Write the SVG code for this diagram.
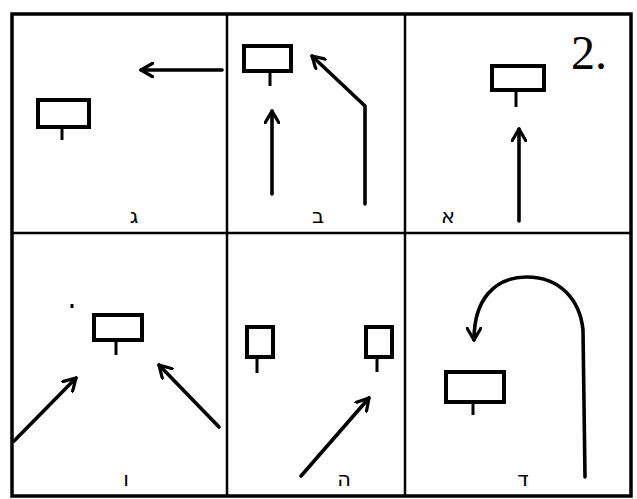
<svg xmlns="http://www.w3.org/2000/svg" width="637" height="499" viewBox="0 0 637 499">
<defs>
<marker id="ahl" viewBox="0 0 16 16" refX="13" refY="8" markerWidth="16" markerHeight="16" markerUnits="userSpaceOnUse" orient="auto">
<path d="M1,1 L13,8 L1,15" fill="none" stroke="#000" stroke-width="3.2" stroke-linecap="round" stroke-linejoin="round"/>
</marker>
</defs>
<style>
.frame{fill:none;stroke:#000;stroke-width:3.5}
.div{fill:none;stroke:#000;stroke-width:2.5}
.box{fill:#fff;stroke:#000;stroke-width:4}
.stem{stroke:#000;stroke-width:3}
.arr{fill:none;stroke:#000;stroke-width:3.6;stroke-linecap:round;stroke-linejoin:round;marker-end:url(#ahl)}
.lbl{font-family:"DejaVu Sans","Liberation Serif",sans-serif;font-size:21px;fill:#000;text-anchor:middle}
</style>
<rect width="637" height="499" fill="#fff"/>
<g id="grid">
<rect class="frame" x="12" y="14" width="619" height="482"/>
<line class="div" x1="227" y1="14" x2="227" y2="496"/>
<line class="div" x1="405" y1="14" x2="405" y2="496"/>
<line class="div" x1="12" y1="233" x2="631" y2="233"/>
</g>
<g id="connectors">
<line class="arr" x1="222" y1="70" x2="141" y2="70"/>
<line class="arr" x1="272" y1="194" x2="272" y2="111"/>
<polyline class="arr" points="365,204 365,106 312,56"/>
<line class="arr" x1="519" y1="221" x2="519" y2="129"/>
<line class="arr" x1="14" y1="441" x2="76" y2="378"/>
<line class="arr" x1="219" y1="427" x2="159" y2="365"/>
<line class="arr" x1="301" y1="476" x2="369" y2="398"/>
<path class="arr" d="M585,477 L583,330 C580,300 560,277 527,277 C494,277 474,300 474,340"/>
</g>
<g id="panel-gimel">
<rect class="box" x="38" y="100" width="51" height="27"/>
<line class="stem" x1="62" y1="127" x2="62" y2="140"/>
<text class="lbl" x="134" y="223">ג</text>
</g>
<g id="panel-bet">
<rect class="box" x="244" y="46" width="47" height="25"/>
<line class="stem" x1="270" y1="71" x2="270" y2="86"/>
<text class="lbl" x="318" y="223">ב</text>
</g>
<g id="panel-alef">
<rect class="box" x="492" y="66" width="52" height="24"/>
<line class="stem" x1="516" y1="90" x2="516" y2="107"/>
<text class="lbl" x="448" y="223">א</text>
<text x="589" y="69" font-family="Liberation Serif,serif" font-size="48" text-anchor="middle">2.</text>
</g>
<g id="panel-vav">
<rect class="box" x="94" y="315" width="48" height="25"/>
<line class="stem" x1="116" y1="340" x2="116" y2="355"/>
<line class="stem" x1="72" y1="304" x2="72" y2="308" stroke-width="2"/>
<text class="lbl" x="126" y="486">ו</text>
</g>
<g id="panel-he">
<rect class="box" x="247" y="327" width="26" height="30"/>
<line class="stem" x1="257" y1="357" x2="257" y2="373"/>
<rect class="box" x="366" y="327" width="26" height="30"/>
<line class="stem" x1="377" y1="357" x2="377" y2="372"/>
<text class="lbl" x="344" y="486">ה</text>
</g>
<g id="panel-dalet">
<rect class="box" x="446" y="372" width="58" height="30"/>
<line class="stem" x1="473" y1="402" x2="473" y2="415"/>
<text class="lbl" x="523" y="486">ד</text>
</g>
</svg>
